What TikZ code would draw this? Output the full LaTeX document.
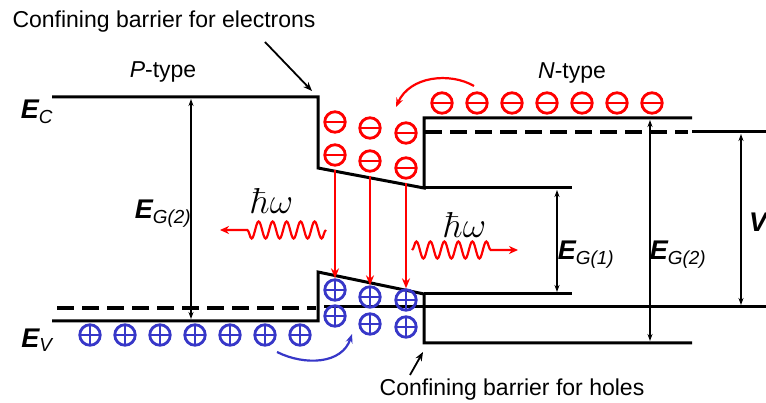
\documentclass[tikz,border=0pt]{standalone}
\usepackage[no-math]{fontspec}
\setmainfont{Liberation Sans}
\usepackage{amsmath}
\usetikzlibrary{arrows.meta, positioning, decorations.pathmorphing}
\definecolor{eRed}{RGB}{255,0,0}
\definecolor{hBlue}{RGB}{55,55,200}
\newcommand{\photonlabel}{\scalebox{1.45}{$\hbar\omega$}}

\begin{document}
\begin{tikzpicture}[x=1pt, y=-1pt,
  band/.style={line width=3pt},
  fermi/.style={line width=3.5pt, dash pattern=on 17pt off 8pt},
  gaparrow/.style={line width=1.2pt, {Stealth[length=7pt,width=5pt]}-{Stealth[length=7pt,width=5pt]}},
  electron/.style={circle, draw=eRed, line width=2.8pt, minimum size=20.5pt, inner sep=0pt,
    path picture={\draw[eRed, line width=2.8pt] (path picture bounding box.west) -- (path picture bounding box.east);}},
  hole/.style={circle, draw=hBlue, line width=2.8pt, minimum size=20.5pt, inner sep=0pt,
    path picture={\draw[hBlue, line width=2.6pt] (path picture bounding box.west) -- (path picture bounding box.east)
      (path picture bounding box.north) -- (path picture bounding box.south);}},
  trans/.style={eRed, line width=2.6pt, -{Stealth[length=10pt,width=8pt]}},
  photon/.style={eRed, line width=2.2pt, decorate,
    decoration={snake, amplitude=8.5pt, segment length=14pt, post length=26pt},
    -{Stealth[length=9pt,width=8pt]}},
  pointer/.style={line width=1.8pt, -{Stealth[length=9pt,width=7pt]}},
  txt/.style={font=\fontsize{23}{27}\selectfont, inner sep=0pt},
  elabel/.style={font=\fontsize{27}{30}\selectfont\bfseries\itshape, inner sep=0pt},
  hw/.style={font=\fontsize{24}{28}\selectfont, inner sep=0pt}
]
  \useasboundingbox (0,0) rectangle (766,403);

  % bands
  \draw[band] (52,97) -- (318,97) -- (318,168) -- (424,188) -- (424,118) -- (692,118);
  \draw[band] (424,188) -- (572,188);
  \draw[band] (52,321) -- (318,321) -- (318,272) -- (424,294) -- (424,343) -- (692,343);
  \draw[band] (424,294) -- (572,294);
  \draw[fermi] (57,308) -- (316,308);
  \draw[fermi] (425,132) -- (688,132);
  \draw[line width=3pt] (324,307) -- (766,307);
  \draw[line width=3pt] (692,132) -- (766,132);

  % gap arrows
  \coordinate (gl1) at (191,99);  \coordinate (gl2) at (191,319);
  \coordinate (gr1) at (650,120); \coordinate (gr2) at (650,341);
  \coordinate (gw1) at (557,190); \coordinate (gw2) at (557,292);
  \coordinate (gv1) at (741,134); \coordinate (gv2) at (741,305);
  \foreach \from/\to in {gl1/gl2, gr1/gr2, gw1/gw2, gv1/gv2}{
    \draw[gaparrow] (\from) -- (\to);
  }

  % labels
  \node[txt] (ttlE) at (164,22) {Confining barrier for electrons};
  \node[txt] (ttlH) at (512,390) {Confining barrier for holes};
  \node[txt] (ptype) at (163,72) {\textit{P}-type};
  \node[txt] (ntype) at (572,73) {\textit{N}-type};
  \node[elabel] (Ec) at (37,112) {E\textsubscript{\mdseries C}};
  \node[elabel] (Ev) at (37,340) {E\textsubscript{\mdseries V}};
  \node[elabel] (Eg2l) at (163,214) {E\textsubscript{\mdseries G(2)}};
  \node[elabel] (Eg1) at (586,255) {E\textsubscript{\mdseries G(1)}};
  \node[elabel] (Eg2r) at (678,255) {E\textsubscript{\mdseries G(2)}};
  \node[elabel, anchor=west] (Vb) at (749,222) {V};

  % barrier pointers
  \coordinate (pe1) at (265,42);  \coordinate (pe2) at (312,91);
  \coordinate (ph1) at (410,375); \coordinate (ph2) at (423,352);
  \draw[pointer] (pe1) -- (pe2);
  \draw[pointer] (ph1) -- (ph2);

  % carriers
  \foreach \i in {1,...,7}{
    \node[electron] (e\i) at ({407+35*\i},103) {};
    \node[hole] (h\i) at ({55+35*\i},335) {};
  }
  \foreach \n/\x/\y in {w1/335/122, w2/370/128, w3/406/133, w4/335/155, w5/370/161, w6/406/168}{
    \node[electron] (\n) at (\x,\y) {};
  }
  \foreach \n/\x/\y in {k1/335/290, k2/370/297, k3/406/300, k4/335/316, k5/370/324, k6/406/327}{
    \node[hole] (\n) at (\x,\y) {};
  }

  % recombination
  \foreach \from/\to in {w4/k1, w5/k2, w6/k3}{
    \draw[trans, shorten <=3pt] (\from.south) -- (\to.north);
  }

  % injection
  \coordinate (ie1) at (474,86);  \coordinate (ie2) at (396,107);
  \coordinate (ih1) at (277,352); \coordinate (ih2) at (352,334);
  \draw[eRed, line width=2.2pt, -{Stealth[length=9pt,width=7pt]}]
    (ie1) .. controls (450,72) and (410,76) .. (ie2);
  \draw[hBlue, line width=2.2pt, -{Stealth[length=9pt,width=7pt]}]
    (ih1) .. controls (305,366) and (342,364) .. (ih2);

  % photons
  \coordinate (pl1) at (326,230); \coordinate (pl2) at (220,230);
  \coordinate (pr1) at (412,250); \coordinate (pr2) at (518,250);
  \draw[photon] (pl1) -- (pl2);
  \draw[photon] (pr1) -- (pr2);
  \node[hw] (hwl) at (272,201) {\photonlabel};
  \node[hw] (hwr) at (465,225) {\photonlabel};
\end{tikzpicture}
\end{document}
